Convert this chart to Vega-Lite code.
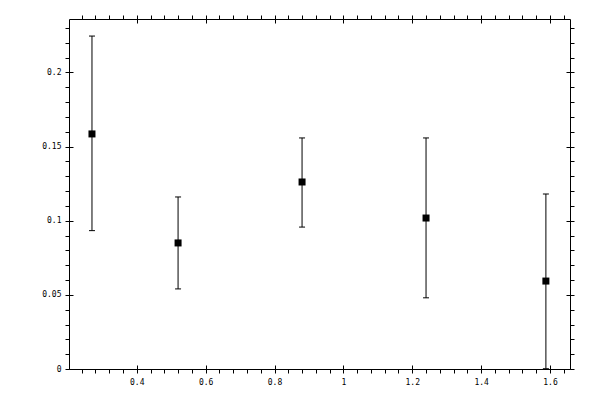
{
  "$schema": "https://vega.github.io/schema/vega-lite/v6.json",
  "width": 501,
  "height": 350,
  "autosize": {"type": "none"},
  "padding": {"left": 69, "top": 19, "right": 30, "bottom": 31},
  "background": "white",
  "config": {
    "view": {"stroke": "black", "strokeWidth": 1},
    "axis": {
      "domain": false,
      "grid": false,
      "title": null,
      "tickColor": "black",
      "tickWidth": 1,
      "labelFont": "DejaVu Sans Mono",
      "labelFontSize": 8,
      "labelColor": "black",
      "labelOverlap": false,
      "labelFlush": false,
      "labelBound": false
    }
  },
  "data": {
    "values": [
      {"x": 0.27, "y": 0.1585, "lo": 0.0933, "hi": 0.2245},
      {"x": 0.52, "y": 0.085, "lo": 0.054, "hi": 0.116},
      {"x": 0.88, "y": 0.1261, "lo": 0.0957, "hi": 0.1558},
      {"x": 1.24, "y": 0.1018, "lo": 0.048, "hi": 0.1558},
      {"x": 1.588, "y": 0.0593, "lo": 0.0002, "hi": 0.118}
    ]
  },
  "resolve": {"axis": {"x": "independent", "y": "independent"}},
  "layer": [
    {
      "mark": {
        "type": "errorbar",
        "ticks": {"size": 6, "color": "black", "strokeWidth": 1, "opacity": 1},
        "rule": {"color": "black", "strokeWidth": 1, "opacity": 1},
        "color": "black"
      },
      "encoding": {
        "x": {
          "field": "x", "type": "quantitative", "title": null,
          "scale": {"domain": [0.2033, 1.658], "nice": false, "zero": false},
          "axis": {
            "orient": "bottom", "tickSize": 4, "labelPadding": 5, "title": null,
            "values": [0.24, 0.28, 0.32, 0.36, 0.4, 0.44, 0.48, 0.52, 0.56, 0.6, 0.64, 0.68, 0.72, 0.76, 0.8, 0.84, 0.88, 0.92, 0.96, 1, 1.04, 1.08, 1.12, 1.16, 1.2, 1.24, 1.28, 1.32, 1.36, 1.4, 1.44, 1.48, 1.52, 1.56, 1.6, 1.64],
            "labelExpr": "abs(datum.value*5-round(datum.value*5))<0.001 ? format(datum.value, '.2~f') : ''"
          }
        },
        "y": {
          "field": "lo", "type": "quantitative", "title": null,
          "scale": {"domain": [0, 0.236], "nice": false, "zero": false},
          "axis": {
            "orient": "left", "tickSize": 4, "labelPadding": 4, "title": null,
            "values": [0, 0.01, 0.02, 0.03, 0.04, 0.05, 0.06, 0.07, 0.08, 0.09, 0.1, 0.11, 0.12, 0.13, 0.14, 0.15, 0.16, 0.17, 0.18, 0.19, 0.2, 0.21, 0.22, 0.23],
            "labelExpr": "abs(datum.value*20-round(datum.value*20))<0.001 ? format(datum.value, '.2~f') : ''"
          }
        },
        "y2": {"field": "hi"}
      }
    },
    {
      "mark": {"type": "square", "filled": true, "color": "black", "size": 49, "opacity": 1},
      "encoding": {
        "x": {
          "field": "x", "type": "quantitative",
          "axis": {
            "orient": "top", "tickSize": 4, "labels": false,
            "values": [0.24, 0.28, 0.32, 0.36, 0.4, 0.44, 0.48, 0.52, 0.56, 0.6, 0.64, 0.68, 0.72, 0.76, 0.8, 0.84, 0.88, 0.92, 0.96, 1, 1.04, 1.08, 1.12, 1.16, 1.2, 1.24, 1.28, 1.32, 1.36, 1.4, 1.44, 1.48, 1.52, 1.56, 1.6, 1.64]
          }
        },
        "y": {
          "field": "y", "type": "quantitative",
          "axis": {
            "orient": "right", "tickSize": 4, "labels": false,
            "values": [0, 0.01, 0.02, 0.03, 0.04, 0.05, 0.06, 0.07, 0.08, 0.09, 0.1, 0.11, 0.12, 0.13, 0.14, 0.15, 0.16, 0.17, 0.18, 0.19, 0.2, 0.21, 0.22, 0.23]
          }
        }
      }
    },
    {
      "mark": {"type": "point", "opacity": 0},
      "encoding": {
        "x": {
          "field": "x", "type": "quantitative",
          "axis": {"orient": "bottom", "tickSize": -4, "labels": false, "values": [0.4, 0.6, 0.8, 1, 1.2, 1.4, 1.6]}
        },
        "y": {
          "field": "y", "type": "quantitative",
          "axis": {"orient": "left", "tickSize": -4, "labels": false, "values": [0, 0.05, 0.1, 0.15, 0.2]}
        }
      }
    },
    {
      "mark": {"type": "point", "opacity": 0},
      "encoding": {
        "x": {
          "field": "x", "type": "quantitative",
          "axis": {"orient": "top", "tickSize": -4, "labels": false, "values": [0.4, 0.6, 0.8, 1, 1.2, 1.4, 1.6]}
        },
        "y": {
          "field": "y", "type": "quantitative",
          "axis": {"orient": "right", "tickSize": -4, "labels": false, "values": [0, 0.05, 0.1, 0.15, 0.2]}
        }
      }
    }
  ]
}
